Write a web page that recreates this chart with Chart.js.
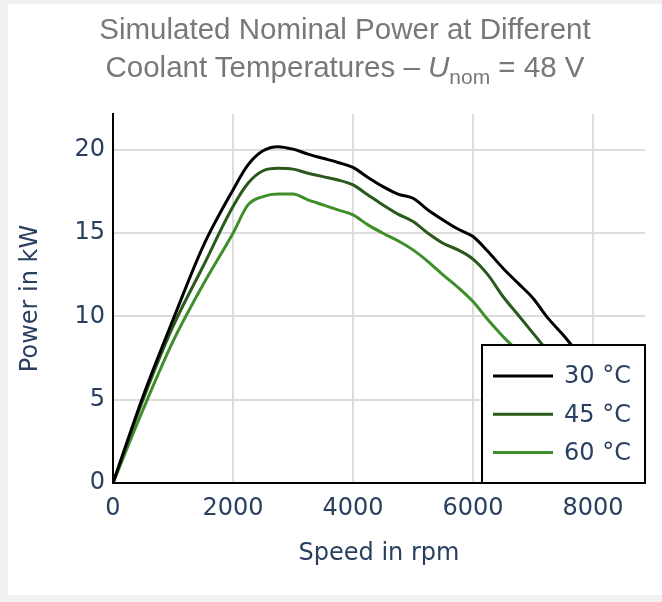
<!DOCTYPE html>
<html>
<head>
<meta charset="utf-8">
<script src="https://cdn.jsdelivr.net/npm/chart.js@4.4.1/dist/chart.umd.min.js"></script>
<style>
  html, body { margin: 0; padding: 0; background: #f1f1f1; }
  #wrap { position: relative; width: 662px; height: 602px; overflow: hidden; }
  #panel { position: absolute; left: 8px; top: 4px; width: 654px; height: 591px; background: #fff; }
  #title {
    position: absolute; left: 14px; top: 10px; width: 662px;
    text-align: center; color: #787878;
    font-family: "Liberation Sans", Arial, sans-serif; font-size: 29.5px; line-height: 38px;
  }
  #title sub { font-size: 21px; vertical-align: -7px; line-height: 0; }
  canvas { position: absolute; left: 0; top: 0; }
</style>
</head>
<body>
<div id="wrap">
  <div id="panel"></div>
  <canvas id="powerChart" width="662" height="602"></canvas>
  <div id="title">Simulated Nominal Power at Different<br>Coolant Temperatures – <i>U</i><sub>nom</sub> = 48 V</div>
</div>
<script>
const speedRpm = [0, 500, 1000, 1500, 2000, 2250, 2500, 2750, 3000, 3250, 3500, 3750, 4000,
  4250, 4500, 4750, 5000, 5250, 5500, 5750, 6000, 6250, 6500, 6750, 7000, 7250, 7500, 7750];
const power30 = [0, 5.2, 9.8, 14.2, 17.6, 19.1, 19.95, 20.2, 20.05, 19.75, 19.5, 19.25, 18.95,
  18.35, 17.8, 17.35, 17.1, 16.4, 15.8, 15.25, 14.8, 13.9, 12.9, 12.0, 11.1, 9.9, 8.9, 7.8];
const power45 = [0, 5.0, 9.4, 13.0, 16.6, 18.0, 18.75, 18.9, 18.85, 18.6, 18.4, 18.2, 17.9,
  17.3, 16.7, 16.15, 15.7, 15.0, 14.4, 14.0, 13.45, 12.5, 11.2, 10.1, 9.0, 7.9, 6.8, 5.7];
const power60 = [0, 4.4, 8.5, 11.9, 15.0, 16.7, 17.2, 17.35, 17.35, 17.0, 16.7, 16.4, 16.1,
  15.5, 15.0, 14.55, 14.0, 13.3, 12.5, 11.75, 10.9, 9.8, 8.8, 7.9, 6.8, 5.7, 4.6, 3.5];
const seriesLabels = ["30 °C", "45 °C", "60 °C"];
const seriesColors = ["#000000", "#2a5a1b", "#3e8e29"];
const speedTicks = [0, 2000, 4000, 6000, 8000];
const powerTicks = [0, 5, 10, 15, 20];

const tickFont = { family: "'DejaVu Sans', Verdana, sans-serif", size: 24 };
const inkColor = "#2a3f5f";

function toPoints(values) {
  return speedRpm.map((x, i) => ({ x, y: values[i] }));
}

// boxed legend in the lower right corner of the plot, like the original
const legendBox = {
  id: "legendBox",
  afterDatasetsDraw(chart) {
    const { ctx, chartArea } = chart;
    const w = 163, h = 138;
    const left = chartArea.right - w;
    const top = chartArea.bottom - h;
    ctx.save();
    ctx.fillStyle = "#fff";
    ctx.fillRect(left, top, w, h);
    ctx.strokeStyle = "#000";
    ctx.lineWidth = 2;
    ctx.strokeRect(left, top, w, h);
    ctx.font = "24px 'DejaVu Sans', Verdana, sans-serif";
    ctx.textBaseline = "middle";
    chart.data.datasets.forEach((ds, i) => {
      const y = top + 31 + i * 38.3;
      ctx.strokeStyle = ds.borderColor;
      ctx.lineWidth = 3;
      ctx.beginPath();
      ctx.moveTo(left + 11, y);
      ctx.lineTo(left + 71, y);
      ctx.stroke();
      ctx.fillStyle = inkColor;
      ctx.fillText(ds.label, left + 82, y + 1);
    });
    ctx.restore();
  },
};

new Chart(document.getElementById("powerChart").getContext("2d"), {
  type: "line",
  data: {
    datasets: [power30, power45, power60].map((vals, i) => ({
      label: seriesLabels[i],
      data: toPoints(vals),
      borderColor: seriesColors[i],
      borderWidth: 3,
      pointRadius: 0,
      cubicInterpolationMode: "monotone",
    })),
  },
  options: {
    responsive: false,
    animation: false,
    layout: { padding: { left: 8, top: 114, right: 17, bottom: 7 } },
    plugins: { legend: { display: false }, tooltip: { enabled: false } },
    scales: {
      x: {
        type: "linear",
        min: 0,
        max: 8867,
        afterBuildTicks: (s) => { s.ticks = speedTicks.map((value) => ({ value })); },
        afterFit: (s) => { s.height = 112; },
        ticks: { padding: 11, color: inkColor, font: tickFont, maxRotation: 0, callback: (v) => String(v) },
        grid: { color: "#dcdcdc", lineWidth: 2, drawTicks: false },
        border: { color: "#000", width: 2 },
        title: { display: true, text: "Speed in rpm", color: inkColor, font: tickFont, padding: { top: 0, bottom: 27 } },
      },
      y: {
        min: 0,
        max: 22.16,
        afterBuildTicks: (s) => { s.ticks = powerTicks.map((value) => ({ value })); },
        afterFit: (s) => { s.width = 105; },
        ticks: { padding: 8, color: inkColor, font: tickFont, callback: (v) => String(v) },
        grid: { color: "#dcdcdc", lineWidth: 2, drawTicks: false },
        border: { color: "#000", width: 2 },
        title: { display: true, text: "Power in kW", color: inkColor, font: tickFont, padding: { top: 8, bottom: 0 } },
      },
    },
  },
  plugins: [legendBox],
});
</script>
</body>
</html>
